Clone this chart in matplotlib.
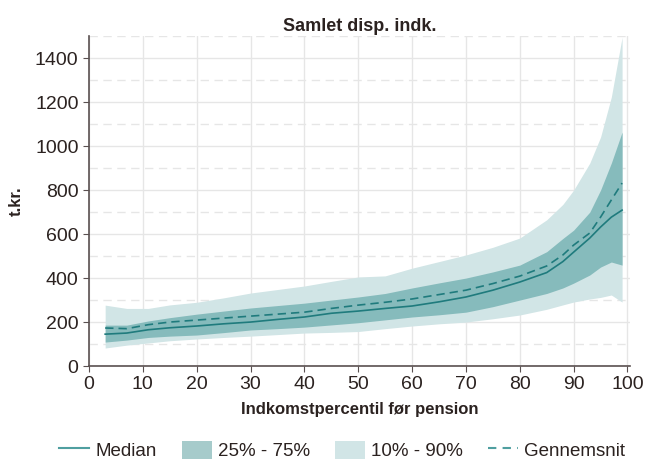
import numpy as np
import matplotlib
matplotlib.use("Agg")
import matplotlib.pyplot as plt
from matplotlib.lines import Line2D
from matplotlib.patches import Patch

plt.rcParams['font.family'] = ['Liberation Sans', 'DejaVu Sans']

# percentiles (x) and bands in t.kr.
pct = [3, 7, 11, 15, 20, 25, 30, 35, 40, 45, 50, 55, 60, 65, 70, 75, 80, 85, 88, 90, 93, 95, 97, 99]
p90 = [277, 262, 262, 278, 290, 310, 332, 348, 364, 385, 405, 410, 445, 475, 505, 540, 582, 665, 735, 800, 923, 1041, 1223, 1495]
p75 = [186, 186, 205, 220, 236, 250, 264, 275, 286, 300, 314, 330, 355, 378, 400, 428, 459, 520, 580, 618, 700, 800, 923, 1064]
mean = [173, 170, 188, 200, 209, 218, 227, 236, 245, 262, 277, 290, 305, 325, 345, 375, 409, 455, 505, 550, 605, 677, 755, 832]
median = [145, 150, 165, 174, 182, 192, 200, 212, 223, 240, 250, 262, 273, 292, 314, 345, 382, 425, 475, 518, 582, 632, 677, 709]
p25 = [109, 118, 130, 136, 141, 152, 164, 170, 177, 187, 197, 210, 223, 233, 245, 270, 300, 330, 355, 377, 414, 450, 473, 459]
p10 = [82, 95, 105, 115, 123, 130, 136, 143, 150, 153, 157, 170, 182, 192, 200, 215, 232, 258, 278, 291, 305, 312, 323, 291]

light = '#d1e5e6'
dark = '#86bbbc'
line_col = '#1f7b7d'
axis_col = '#5a5050'
text_col = '#2b2220'

fig = plt.figure(figsize=(6.45, 4.76), dpi=100)
ax = fig.add_axes([0.138, 0.231, 0.839, 0.693])

ax.fill_between(pct, p10, p90, color=light, lw=0)
ax.fill_between(pct, p25, p75, color=dark, lw=0)
ax.plot(pct, median, color=line_col, lw=1.2)
ax.plot(pct, mean, color=line_col, lw=1.2, ls=(0, (5, 3)))

ax.set_xlim(0, 100.5)
ax.set_ylim(0, 1500)
ax.set_xticks(np.arange(0, 101, 10))
ax.set_yticks(np.arange(0, 1401, 200))
ax.set_yticks(np.arange(100, 1501, 200), minor=True)
ax.grid(True, which='major', color='#e6e6e6', lw=1)
ax.grid(True, which='minor', axis='y', color='#e6e6e6', lw=1, ls=(0, (6, 4)))
ax.set_axisbelow(True)

for s in ['top', 'right']:
    ax.spines[s].set_visible(False)
for s in ['left', 'bottom']:
    ax.spines[s].set_color(axis_col)
    ax.spines[s].set_linewidth(1.2)
ax.tick_params(which='major', length=4, color=axis_col, labelsize=14, labelcolor=text_col)
ax.tick_params(which='minor', length=0)

ax.set_title('Samlet disp. indk.', fontsize=13, fontweight='bold', color=text_col, pad=4)
ax.set_ylabel('t.kr.', fontsize=12, fontweight='bold', color=text_col, labelpad=8)
ax.set_xlabel('Indkomstpercentil før pension', fontsize=12, fontweight='bold', color=text_col, labelpad=6)

handles = [
    Line2D([0], [0], color='#4f9fa0', lw=1.5),
    Patch(facecolor='#a6cbcb'),
    Patch(facecolor='#d1e5e6'),
    Line2D([0], [0], color='#4f9fa0', lw=1.5, ls=(0, (4, 3))),
]
labels = ['Median', '25% - 75%', '10% - 90%', 'Gennemsnit']
ax.legend(handles, labels, ncol=4, frameon=False, loc='upper center',
          bbox_to_anchor=(0.468, -0.175), fontsize=13.5, handlelength=1.6,
          handleheight=1.1, handletextpad=0.35, columnspacing=1.3, labelcolor=text_col)

fig.savefig('out.png', dpi=100)
